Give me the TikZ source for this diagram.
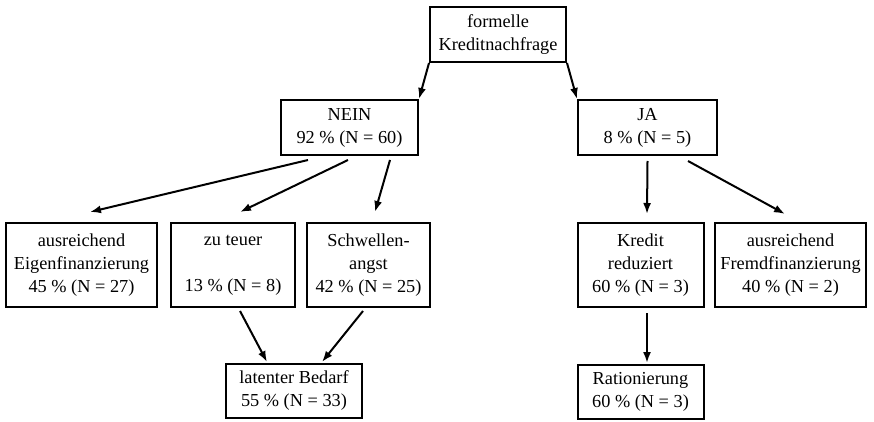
\documentclass[tikz,border=0pt]{standalone}
\usepackage{fontspec}
\setmainfont{Liberation Serif}
\usetikzlibrary{arrows.meta,calc}

\tikzset{
    kasten/.style={draw, line width=2pt, align=center, inner sep=0pt},
    pfeil/.style={line width=2pt, -{Latex[length=11pt,width=8pt]}}
}

\begin{document}
\begin{tikzpicture}[x=1pt, y=-1pt, font=\fontsize{18.3}{23}\selectfont]
        \useasboundingbox (0,0) rectangle (874,422);
        % Below nodes are the boxes.
            \node[kasten, minimum width=136, minimum height=55] (frage) at (498,34.5) {formelle\\Kreditnachfrage};
            \node[kasten, minimum width=137, minimum height=55] (nein) at (349.5,127.5) {NEIN\\92 \% (N = 60)};
            \node[kasten, minimum width=139, minimum height=55] (ja) at (647.5,127.5) {JA\\8 \% (N = 5)};
            \node[kasten, minimum width=151, minimum height=84] (eigen) at (81.5,265) {ausreichend\\Eigenfinanzierung\\45 \% (N = 27)};
            \node[kasten, minimum width=124, minimum height=84] (teuer) at (233,265) {zu teuer\\~\\13 \% (N = 8)};
            \node[kasten, minimum width=123, minimum height=84] (angst) at (368.5,265) {Schwellen-\\angst\\42 \% (N = 25)};
            \node[kasten, minimum width=126, minimum height=84] (kredit) at (640.5,265) {Kredit\\reduziert\\60 \% (N = 3)};
            \node[kasten, minimum width=151, minimum height=84] (fremd) at (790.5,265) {ausreichend\\Fremdfinanzierung\\40 \% (N = 2)};
            \node[kasten, minimum width=136, minimum height=54] (latent) at (294,391) {latenter Bedarf\\55 \% (N = 33)};
            \node[kasten, minimum width=126, minimum height=54] (ration) at (640.5,392) {Rationierung\\60 \% (N = 3)};
        % This draws the arrows.
            \draw[pfeil] (frage.south west) -- (nein.north east);
            \draw[pfeil] (frage.south east) -- (ja.north west);
            \draw[pfeil] ($(nein.south)+(-41.5,4)$) -- ($(eigen.north)+(8.5,-10)$);
            \draw[pfeil] ($(nein.south)+(-1.5,4)$) -- ($(teuer.north)+(7,-10)$);
            \draw[pfeil] ($(nein.south)+(40.5,4)$) -- ($(angst.north)+(6.5,-10)$);
            \draw[pfeil] ($(ja.south)+(0,5)$) -- ($(kredit.north)+(6.5,-8)$);
            \draw[pfeil] ($(ja.south)+(40.5,5)$) -- ($(fremd.north)+(-5.5,-8)$);
            \draw[pfeil] ($(teuer.south)+(7,3)$) -- ($(latent.north)+(-27,-1)$);
            \draw[pfeil] ($(angst.south)+(-5.5,3)$) -- ($(latent.north)+(28,-1)$);
            \draw[pfeil] ($(kredit.south)+(6.5,5)$) -- ($(ration.north)+(6.5,-1)$);
    \end{tikzpicture}
\end{document}
